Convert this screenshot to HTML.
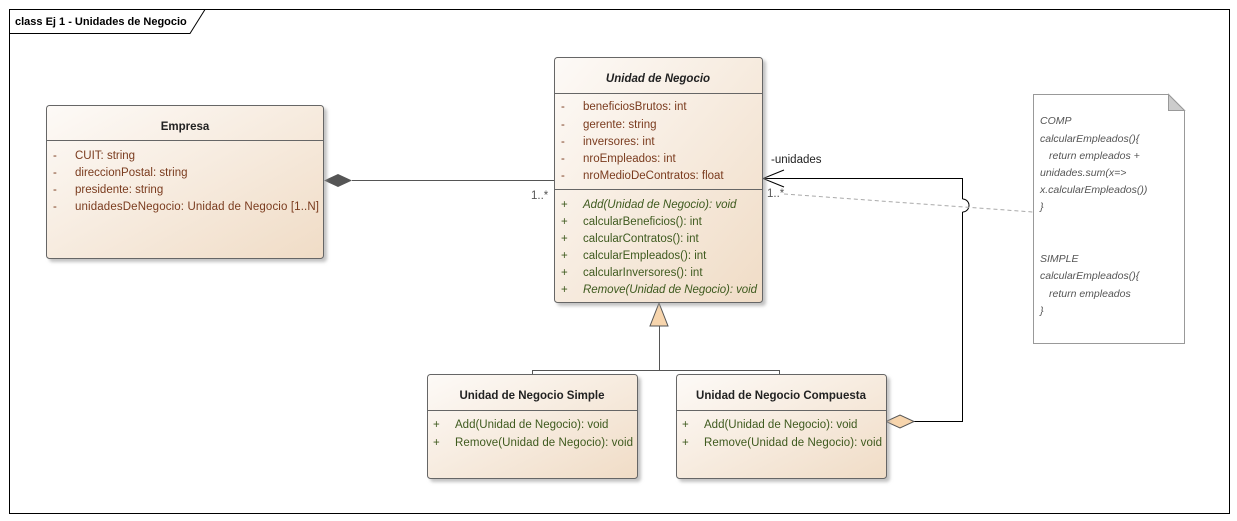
<!DOCTYPE html>
<html><head><meta charset="utf-8"><style>
html,body{margin:0;padding:0;background:#fff;}
svg{display:block;font-family:"Liberation Sans",sans-serif;}
.a{fill:#7a3b1e;font-size:11.5px;}
.o{fill:#3e5a1e;font-size:11.5px;}
.t{fill:#222;font-size:11.5px;font-weight:bold;}
.s{fill:#555;font-size:11.5px;}
.n{fill:#555;font-size:10.5px;font-style:italic;}
</style></head><body>
<svg width="1237" height="521" viewBox="0 0 1237 521">
<defs>
<linearGradient id="g" x1="0" y1="0" x2="1" y2="1">
<stop offset="0" stop-color="#fdfaf7"/><stop offset="1" stop-color="#f0dcc6"/>
</linearGradient>
<filter id="sh" x="-5%" y="-5%" width="115%" height="115%"><feDropShadow dx="3" dy="3" stdDeviation="1.5" flood-color="#999" flood-opacity="0.6"/></filter>
</defs>
<rect x="0" y="0" width="1237" height="521" fill="#fff"/>
<rect x="9.5" y="9.5" width="1220" height="504" fill="none" stroke="#000" stroke-width="1"/>
<path d="M9.5 33.5 H190 L205 9.5" fill="none" stroke="#000"/>
<text x="15" y="25" style="font-size:11px;font-weight:bold;fill:#000">class Ej 1 - Unidades de Negocio</text>

<!-- connectors -->
<line x1="352" y1="180.5" x2="554" y2="180.5" stroke="#555"/>
<polygon points="324,180.5 338,174 352,180.5 338,187" fill="#555"/>
<text x="531" y="199" class="s">1..*</text>

<polygon points="659,303 650,326 668,326" fill="#f7d5ad" stroke="#555"/>
<line x1="659.5" y1="326" x2="659.5" y2="370" stroke="#555"/>
<polyline points="532.5,374 532.5,370.5 779.5,370.5 779.5,374" fill="none" stroke="#555"/>

<path d="M914 421.5 H962.5 V212 M962.5 199 V178.5 H763" fill="none" stroke="#000"/>
<path d="M962.5 199 A6.5 6.5 0 0 1 962.5 212" fill="none" stroke="#000"/>
<polyline points="784,170 763,178.5 784,187" fill="none" stroke="#000"/>
<polygon points="886,421.5 900,415 914,421.5 900,428" fill="#f7d5ad" stroke="#555"/>
<text x="771" y="163" class="s" style="fill:#222">-unidades</text>
<text x="767" y="197" class="s">1..*</text>
<line x1="784" y1="194" x2="1033" y2="212" stroke="#aaa" stroke-dasharray="4,3"/>

<!-- Empresa -->
<rect x="46.5" y="105.5" width="277" height="153" rx="3" fill="url(#g)" stroke="#666" filter="url(#sh)"/>
<line x1="46.5" y1="140.5" x2="323.5" y2="140.5" stroke="#666"/>
<text x="185" y="130" text-anchor="middle" class="t">Empresa</text>
<g class="a"><text x="53" y="159">-</text><text x="75" y="159">CUIT: string</text>
<text x="53" y="176">-</text><text x="75" y="176">direccionPostal: string</text>
<text x="53" y="193">-</text><text x="75" y="193">presidente: string</text>
<text x="53" y="210">-</text><text x="75" y="210" textLength="244">unidadesDeNegocio: Unidad de Negocio [1..N]</text></g>

<!-- Unidad de Negocio -->
<rect x="554.5" y="57.5" width="208" height="245" rx="3" fill="url(#g)" stroke="#666" filter="url(#sh)"/>
<line x1="554.5" y1="93.5" x2="762.5" y2="93.5" stroke="#666"/>
<line x1="554.5" y1="189.5" x2="762.5" y2="189.5" stroke="#666"/>
<text x="658" y="82" text-anchor="middle" class="t" style="font-style:italic">Unidad de Negocio</text>
<g class="a"><text x="561" y="110">-</text><text x="583" y="110">beneficiosBrutos: int</text>
<text x="561" y="128">-</text><text x="583" y="128">gerente: string</text>
<text x="561" y="145">-</text><text x="583" y="145">inversores: int</text>
<text x="561" y="162">-</text><text x="583" y="162">nroEmpleados: int</text>
<text x="561" y="179">-</text><text x="583" y="179">nroMedioDeContratos: float</text></g>
<g class="o"><text x="561" y="208">+</text><text x="583" y="208" font-style="italic">Add(Unidad de Negocio): void</text>
<text x="561" y="225">+</text><text x="583" y="225">calcularBeneficios(): int</text>
<text x="561" y="242">+</text><text x="583" y="242">calcularContratos(): int</text>
<text x="561" y="259">+</text><text x="583" y="259">calcularEmpleados(): int</text>
<text x="561" y="276">+</text><text x="583" y="276">calcularInversores(): int</text>
<text x="561" y="293">+</text><text x="583" y="293" font-style="italic" textLength="174">Remove(Unidad de Negocio): void</text></g>

<!-- Simple -->
<rect x="427.5" y="374.5" width="210" height="104" rx="3" fill="url(#g)" stroke="#666" filter="url(#sh)"/>
<line x1="427.5" y1="410.5" x2="637.5" y2="410.5" stroke="#666"/>
<text x="532" y="399" text-anchor="middle" class="t">Unidad de Negocio Simple</text>
<g class="o"><text x="433" y="428">+</text><text x="455" y="428">Add(Unidad de Negocio): void</text>
<text x="433" y="446">+</text><text x="455" y="446" textLength="178">Remove(Unidad de Negocio): void</text></g>

<!-- Compuesta -->
<rect x="676.5" y="374.5" width="210" height="104" rx="3" fill="url(#g)" stroke="#666" filter="url(#sh)"/>
<line x1="676.5" y1="410.5" x2="886.5" y2="410.5" stroke="#666"/>
<text x="781" y="399" text-anchor="middle" class="t">Unidad de Negocio Compuesta</text>
<g class="o"><text x="682" y="428">+</text><text x="704" y="428">Add(Unidad de Negocio): void</text>
<text x="682" y="446">+</text><text x="704" y="446" textLength="178">Remove(Unidad de Negocio): void</text></g>

<!-- Note -->
<path d="M1033.5 94.5 H1168.5 L1184.5 110.5 V343.5 H1033.5 Z" fill="#fff" stroke="#999"/>
<path d="M1168.5 94.5 V110.5 H1184.5 Z" fill="#ccc" stroke="#999"/>
<g class="n"><text x="1040" y="124">COMP</text>
<text x="1040" y="142">calcularEmpleados(){</text>
<text x="1049" y="159">return empleados +</text>
<text x="1040" y="176">unidades.sum(x=&gt;</text>
<text x="1040" y="193">x.calcularEmpleados())</text>
<text x="1040" y="210">}</text>
<text x="1040" y="262">SIMPLE</text>
<text x="1040" y="279">calcularEmpleados(){</text>
<text x="1049" y="297">return empleados</text>
<text x="1040" y="314">}</text></g>
</svg>
</body></html>
